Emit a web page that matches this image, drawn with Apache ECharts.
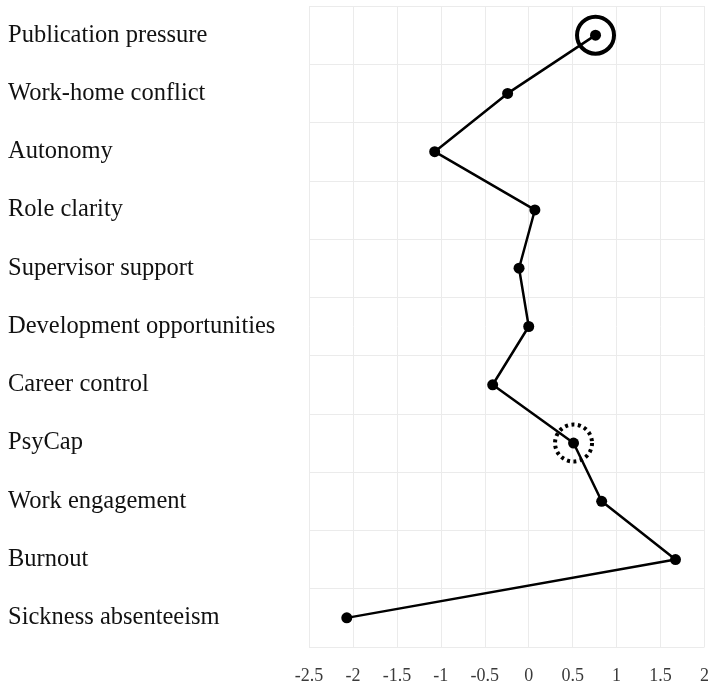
<!DOCTYPE html>
<html>
<head>
<meta charset="utf-8">
<script src="https://cdn.jsdelivr.net/npm/echarts@6/dist/echarts.min.js"></script>
<style>
html,body{margin:0;padding:0;background:#fff;}
#chart{width:712px;height:686px;}
</style>
</head>
<body>
<div id="chart"></div>
<script>
// categories, top to bottom
const categories = [
  'Publication pressure',
  'Work-home conflict',
  'Autonomy',
  'Role clarity',
  'Supervisor support',
  'Development opportunities',
  'Career control',
  'PsyCap',
  'Work engagement',
  'Burnout',
  'Sickness absenteeism'
];
const values = [0.76, -0.24, -1.07, 0.07, -0.11, 0.0, -0.41, 0.51, 0.83, 1.67, -2.07];
const xTicks = [-2.5, -2, -1.5, -1, -0.5, 0, 0.5, 1, 1.5, 2];
// highlighted points
const solidRing = [0];
const dottedRing = [7];

const serif = '"Liberation Serif", "DejaVu Serif", serif';
const chart = echarts.init(document.getElementById('chart'));

function ring(idx) {
  return idx.map(i => [values[i], categories[i]]);
}

chart.setOption({
  animation: false,
  grid: {left: 309, right: 5, top: 6, bottom: 39},
  xAxis: {
    type: 'value',
    min: xTicks[0],
    max: xTicks[xTicks.length - 1],
    interval: 0.5,
    axisLine: {show: false},
    axisTick: {show: false},
    axisLabel: {
      color: '#3a3a3a',
      fontFamily: serif,
      fontSize: 18,
      margin: 20
    },
    splitLine: {lineStyle: {color: '#ebebeb', width: 1}}
  },
  yAxis: {
    type: 'category',
    data: categories,
    inverse: true,
    boundaryGap: true,
    axisLine: {show: false},
    axisTick: {show: false},
    axisLabel: {
      align: 'left',
      margin: 301,
      padding: [0, 0, 6, 0],
      color: '#111',
      fontFamily: serif,
      fontSize: 24.5
    },
    splitLine: {show: true, lineStyle: {color: '#ebebeb', width: 1}}
  },
  series: [
    {
      type: 'line',
      data: values.map((v, i) => [v, categories[i]]),
      symbol: 'circle',
      symbolSize: 11,
      lineStyle: {color: '#000', width: 2.5},
      itemStyle: {color: '#000'}
    },
    {
      type: 'scatter',
      data: ring(solidRing),
      symbol: 'circle',
      symbolSize: 37,
      itemStyle: {opacity: 1, color: 'rgba(0,0,0,0)', borderColor: '#000', borderWidth: 4}
    },
    {
      type: 'scatter',
      data: ring(dottedRing),
      symbol: 'circle',
      symbolSize: 37,
      itemStyle: {opacity: 1, color: 'rgba(0,0,0,0)', borderColor: '#000', borderWidth: 4, borderType: [3, 3.5]}
    }
  ]
});
</script>
</body>
</html>
